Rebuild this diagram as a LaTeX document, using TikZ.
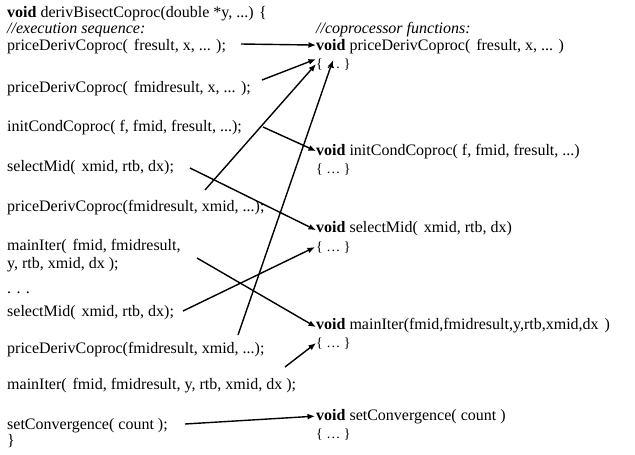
\documentclass[tikz,border=0pt]{standalone}
\usepackage{fontspec}
\setmainfont{Liberation Serif}
\usetikzlibrary{arrows.meta}
\newcommand{\wsp}{\ \hspace{0.12em}}% slightly wider gap after an opening parenthesis
\begin{document}
\begin{tikzpicture}[x=1pt,y=-1pt,
  code/.style={anchor=base west,inner sep=0pt,font=\fontsize{16}{18}\selectfont},
  body/.style={anchor=base west,inner sep=0pt,font=\fontsize{14}{16}\selectfont},
  call/.style={line width=1.4pt,-{Latex[length=7.5pt,width=6pt]}}]
\useasboundingbox (0,0) rectangle (635,455);
% caller: execution sequence
\node[code] (hdr)  at (7,17)  {\textbf{void} derivBisectCoproc(double *y, ...) \{};
\node[code] (exs)  at (7,33)  {\textit{//execution sequence:}};
\node[code] (c1)   at (7,50)  {priceDerivCoproc(\wsp fresult, x, ... );};
\node[code] (c2)   at (7,92)  {priceDerivCoproc(\wsp fmidresult, x, ... );};
\node[code] (c3)   at (7,131) {initCondCoproc( f, fmid, fresult, ...);};
\node[code] (c4)   at (7,171) {selectMid(\wsp xmid, rtb, dx);};
\node[code] (c5)   at (7,211) {priceDerivCoproc(fmidresult, xmid, ...);};
\node[code] (c6)   at (7,250) {mainIter(\wsp fmid, fmidresult,};
\node[code] (c6b)  at (7,268) {y, rtb, xmid, dx );};
\node[code] (dots) at (7,293) {. . .};
\node[code] (c7)   at (7,316) {selectMid(\wsp xmid, rtb, dx);};
\node[code] (c8)   at (7,353) {priceDerivCoproc(fmidresult, xmid, ...);};
\node[code] (c9)   at (7,389) {mainIter(\wsp fmid, fmidresult, y, rtb, xmid, dx );};
\node[code] (c10)  at (7,429) {setConvergence( count );};
\node[code] (end)  at (7,445) {\}};
% coprocessor functions
\node[code] (cph)  at (316,33)  {\textit{//coprocessor functions:}};
\node[code] (f1)   at (316,50)  {\textbf{void} priceDerivCoproc(\wsp fresult, x, ... )};
\node[body] (f1b)  at (316,68)  {\{ \dots\ \}};
\node[code] (f2)   at (316,155) {\textbf{void} initCondCoproc( f, fmid, fresult, ...)};
\node[body] (f2b)  at (316,173) {\{ \dots\ \}};
\node[code] (f3)   at (316,232) {\textbf{void} selectMid(\wsp xmid, rtb, dx)};
\node[body] (f3b)  at (316,251) {\{ \dots\ \}};
\node[code] (f4)   at (316,329) {\textbf{void} mainIter(fmid,fmidresult,y,rtb,xmid,dx\wsp)};
\node[body] (f4b)  at (316,347) {\{ \dots\ \}};
\node[code] (f5)   at (316,420) {\textbf{void} setConvergence( count )};
\node[body] (f5b)  at (316,438) {\{ \dots\ \}};
% start points of the call arrows
\coordinate (s1)  at (241,44);
\coordinate (s2)  at (262,80);
\coordinate (s3)  at (205,190);
\coordinate (s4)  at (238,335);
\coordinate (s5)  at (263,127);
\coordinate (s6)  at (190,168);
\coordinate (s7)  at (183,311);
\coordinate (s8)  at (197,258);
\coordinate (s9)  at (285,367);
\coordinate (s10) at (185,424);
% calls
\draw[call] (s1)  -- ([yshift=1pt]f1.west);
\draw[call] (s2)  -- ([yshift=-1pt]f1b.north west);
\draw[call] (s3)  -- (f1b.west);
\draw[call] (s4)  -- ([xshift=17pt,yshift=10pt]f1b.south west);
\draw[call] (s5)  -- (f2.west);
\draw[call] (s6)  -- ([yshift=-2pt]f3.west);
\draw[call] (s7)  -- ([xshift=-1pt]f3b.west);
\draw[call] (s8)  -- ([yshift=-2pt]f4.west);
\draw[call] (s9)  -- (f4b.west);
\draw[call] (s10) -- ([xshift=-1pt]f5.west);
\end{tikzpicture}
\end{document}
